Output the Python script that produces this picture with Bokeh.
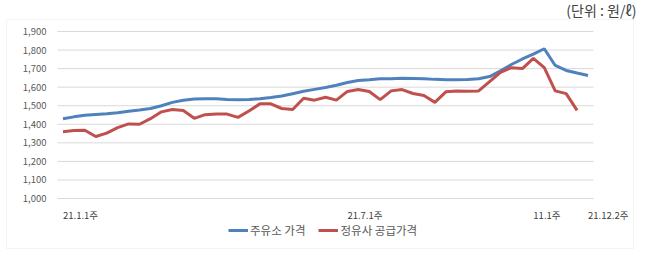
from bokeh.plotting import figure
from bokeh.models import Legend, LegendItem, BoxAnnotation
from bokeh.embed import file_html
from bokeh.resources import INLINE

# weekly prices, 2021 week 1.1 .. week 12.2 (won / litre)
station_price = [1430, 1440, 1449, 1453, 1457, 1462, 1470, 1477, 1485, 1500,
                 1518, 1530, 1536, 1538, 1537, 1534, 1532, 1534, 1537, 1544,
                 1552, 1565, 1578, 1588, 1598, 1610, 1625, 1636, 1640, 1645,
                 1646, 1648, 1647, 1645, 1642, 1640, 1640, 1641, 1645, 1657,
                 1688, 1722, 1752, 1778, 1807, 1717, 1690, 1676, 1663]
refinery_price = [1360, 1366, 1368, 1334, 1352, 1382, 1402, 1400, 1430, 1467,
                  1480, 1474, 1432, 1452, 1456, 1455, 1437, 1472, 1510, 1510,
                  1485, 1480, 1540, 1530, 1546, 1530, 1577, 1587, 1577, 1533,
                  1580, 1587, 1566, 1555, 1518, 1575, 1579, 1578, 1580, 1630,
                  1680, 1705, 1700, 1755, 1705, 1580, 1565, 1475]
week_index = list(range(len(station_price)))
tick_positions = [0, 26, 43, 48]
tick_labels = ["21.1.1주", "21.7.1주", "11.1주", "21.12.2주"]
y_ticks = list(range(1000, 1901, 100))
series_names = ["주유소 가격", "정유사 공급가격"]
unit_text = "(단위 : 원/ℓ)"

FONT = "Noto Sans CJK KR"

# layout in pixels: canvas, outer box and inner plot area
W, H = 647, 255
BOX_L, BOX_R, BOX_T, BOX_B = 6, 633, 19, 248
AREA_L, AREA_R, AREA_T, AREA_B = 57, 593, 31, 198

n = len(station_price)
cat_lo, cat_hi = -0.5, n - 0.5
px_x = (AREA_R - AREA_L) / (cat_hi - cat_lo)
px_y = (AREA_B - AREA_T) / (y_ticks[-1] - y_ticks[0])

def dx(px):
    return cat_lo + (px - AREA_L) / px_x

def dy(py):
    return y_ticks[0] + (AREA_B - py) / px_y

p = figure(width=W, height=H, output_backend="svg", toolbar_location=None,
           x_axis_location=None, y_axis_location=None,
           x_range=(dx(0), dx(W)), y_range=(dy(H), dy(0)),
           min_border=0)
p.grid.visible = False
p.outline_line_color = None

# outer frame box
p.add_layout(BoxAnnotation(left=dx(BOX_L), right=dx(BOX_R), top=dy(BOX_T),
                           bottom=dy(BOX_B), fill_alpha=0,
                           line_color="#d9d9d9", line_width=1))

# unit note above the box
p.text(x=[dx(W)], y=[dy(0)], text=[unit_text], x_offset=-11, y_offset=9,
       text_align="right", text_baseline="middle",
       text_font={"value": FONT}, text_font_size="14px", text_color="#404040")

# horizontal gridlines across the plot area
p.segment(x0=[cat_lo] * len(y_ticks), x1=[cat_hi] * len(y_ticks),
          y0=y_ticks, y1=y_ticks, line_color="#d9d9d9", line_width=1)

# y tick labels
p.text(x=[cat_lo] * len(y_ticks), y=y_ticks, text=[f"{v:,}" for v in y_ticks],
       x_offset=-11, text_align="right", text_baseline="middle",
       text_font={"value": FONT}, text_font_size="9.5px", text_color="#595959")

# x tick labels (left aligned at their category)
p.text(x=tick_positions, y=[y_ticks[0]] * len(tick_positions), text=tick_labels,
       y_offset=16, text_align="left", text_baseline="middle",
       text_font={"value": FONT}, text_font_size="9.5px", text_color="#404040")

r1 = p.line(week_index, station_price, line_color="#4f81bd", line_width=3)
r2 = p.line(week_index[:len(refinery_price)], refinery_price,
            line_color="#c0504d", line_width=3)

legend = Legend(items=[LegendItem(label=series_names[0], renderers=[r1]),
                       LegendItem(label=series_names[1], renderers=[r2])],
                orientation="horizontal", location=(228, 17), padding=0,
                margin=0, spacing=13, label_standoff=2, glyph_width=20,
                glyph_height=12, label_text_font=FONT,
                label_text_font_size="11.5px", label_text_color="#595959",
                label_height=12,
                background_fill_alpha=0, border_line_color=None)
p.add_layout(legend)

open("out.html", "w").write(file_html(p, INLINE))
